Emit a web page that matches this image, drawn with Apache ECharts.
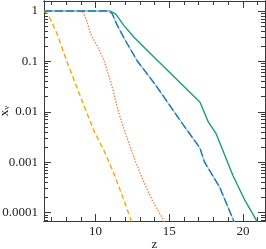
<!DOCTYPE html>
<html><head><meta charset="utf-8">
<script src="https://cdn.jsdelivr.net/npm/echarts@6/dist/echarts.min.js"></script>
<style>html,body{margin:0;padding:0;background:#fff}#c{width:266px;height:249px}</style>
</head><body><div id="c"></div>
<script>
// Data (z, x_v)
const zOrangeDash = [6.5, 6.75, 7.4, 8.08, 8.99, 9.89, 10.57, 11.25, 11.93, 12.43, 12.6];
const vOrangeDash = [1, 0.89, 0.347, 0.0955, 0.0195, 0.00417, 0.0017, 0.00059, 0.000174, 0.0000676, 0.00005];
const zOrangeDot = [6.5, 9.1, 9.35, 9.67, 10.3, 10.6, 11.14, 11.55, 12.04, 12.72, 13.29, 13.85, 14.65, 14.8];
const vOrangeDot = [1, 1, 0.708, 0.347, 0.158, 0.1, 0.0302, 0.01, 0.00363, 0.001, 0.000398, 0.000174, 0.0000676, 0.0000537];
const zBlue = [6.5, 10.9, 11.14, 11.48, 12.15, 12.83, 14.03, 15.93, 17.08, 17.4, 18.43, 19.4, 19.6];
const vBlue = [1, 1, 0.871, 0.513, 0.224, 0.102, 0.0355, 0.00562, 0.00191, 0.001, 0.000316, 0.000066, 0.00005];
const zGreen = [6.5, 11.0, 11.37, 11.93, 12.61, 14.03, 17.09, 17.65, 18.19, 19.33, 20.14, 20.95, 21.1];
const vGreen = [1, 1, 0.871, 0.513, 0.302, 0.117, 0.0155, 0.0063, 0.00363, 0.000537, 0.000174, 0.0000676, 0.0000537];
const xMajorTicks = [10, 15, 20];
const xMinorTicks = [7, 8, 9, 11, 12, 13, 14, 16, 17, 18, 19, 21];
const yMajorTicks = [0.0001, 0.001, 0.01, 0.1, 1];
const yMinorMultipliers = [2, 3, 4, 5, 6, 7, 8, 9];
const yMinorDecades = [0.00001, 0.0001, 0.001, 0.01, 0.1];

const xMin = 6.5, xMax = 21.5, yMin = 0.000068, yMax = 1.58;
const yMinorTicks = [];
yMinorDecades.forEach(d => yMinorMultipliers.forEach(m => { const v = +(d * m).toPrecision(3); if (v > yMin && v < yMax) yMinorTicks.push(v); }));

const pairs = (zs, vs) => zs.map((z, i) => [z, vs[i]]);
const font = 'Liberation Serif';
const axisCol = '#3a3a3a';
const labelFmt = v => { const map = {1:'1',0.1:'0.1',0.01:'0.01',0.001:'0.001',0.0001:'0.0001'}; return map[v] !== undefined ? map[v] : String(v); };

function xAx(pos, ticks, len, labels) {
  return {
    type: 'value', min: xMin, max: xMax, position: pos,
    name: labels ? 'z' : '', nameLocation: 'middle', nameGap: 17.5, nameMoveOverlap: false,
    nameTextStyle: {fontFamily: font, fontSize: 13, color: '#222', lineHeight: 13},
    axisLine: {show: true, lineStyle: {color: axisCol, width: 1}},
    axisTick: {show: true, inside: true, length: len, customValues: ticks, lineStyle: {color: axisCol, width: 1}},
    axisLabel: labels ? {show: true, customValues: ticks, margin: 4, fontFamily: font, fontSize: 13, color: '#222'} : {show: false},
    splitLine: {show: false}
  };
}
function yAx(pos, ticks, len, labels) {
  return {
    type: 'log', logBase: 10, min: yMin, max: yMax, position: pos,
    name: labels ? '{a|x}{b|v}' : '', nameLocation: 'middle', nameGap: 33, nameRotate: 90, nameMoveOverlap: false,
    nameTextStyle: {fontFamily: font, color: '#222', rich: {a: {fontFamily: font, fontSize: 13, lineHeight: 14, verticalAlign: 'bottom'}, b: {fontFamily: font, fontSize: 8, lineHeight: 14, verticalAlign: 'bottom', padding: [4, 0, 0, 0]}}},
    axisLine: {show: true, lineStyle: {color: axisCol, width: 1}},
    axisTick: {show: true, inside: true, length: len, customValues: ticks, lineStyle: {color: axisCol, width: 1}},
    axisLabel: labels ? {show: true, customValues: ticks, margin: 6, fontFamily: font, fontSize: 13, color: '#222', formatter: labelFmt} : {show: false},
    splitLine: {show: false}, minorTick: {show: false}
  };
}

const chart = echarts.init(document.getElementById('c'), null, {renderer: 'canvas'});
chart.setOption({
  animation: false,
  backgroundColor: '#fff',
  grid: {left: 44, right: 1, top: 1, bottom: 28, containLabel: false, outerBoundsMode: 'none'},
  xAxis: [xAx('bottom', xMajorTicks, 7, true), xAx('bottom', xMinorTicks, 4, false), xAx('top', xMajorTicks, 7, false), xAx('top', xMinorTicks, 4, false)],
  yAxis: [yAx('left', yMajorTicks, 7, true), yAx('left', yMinorTicks, 4, false), yAx('right', yMajorTicks, 7, false), yAx('right', yMinorTicks, 4, false)],
  series: [
    {type: 'line', data: pairs(zOrangeDash, vOrangeDash), showSymbol: false, symbol: 'none', lineStyle: {color: '#f2a900', width: 1.4, type: [5, 3]}, silent: true},
    {type: 'line', data: pairs(zOrangeDot, vOrangeDot), showSymbol: false, symbol: 'none', lineStyle: {color: '#f0874a', width: 1.4, type: [1.5, 1.5]}, silent: true},
    {type: 'line', data: pairs(zGreen, vGreen), showSymbol: false, symbol: 'none', lineStyle: {color: '#1b9e77', width: 1.4}, silent: true},
    {type: 'line', data: pairs(zBlue, vBlue), showSymbol: false, symbol: 'none', lineStyle: {color: '#a6cee3', width: 1.4}, silent: true},
    {type: 'line', data: pairs(zBlue, vBlue), showSymbol: false, symbol: 'none', lineStyle: {color: '#1f78b4', width: 1.4, type: [8, 3]}, silent: true}
  ]
});
</script></body></html>
